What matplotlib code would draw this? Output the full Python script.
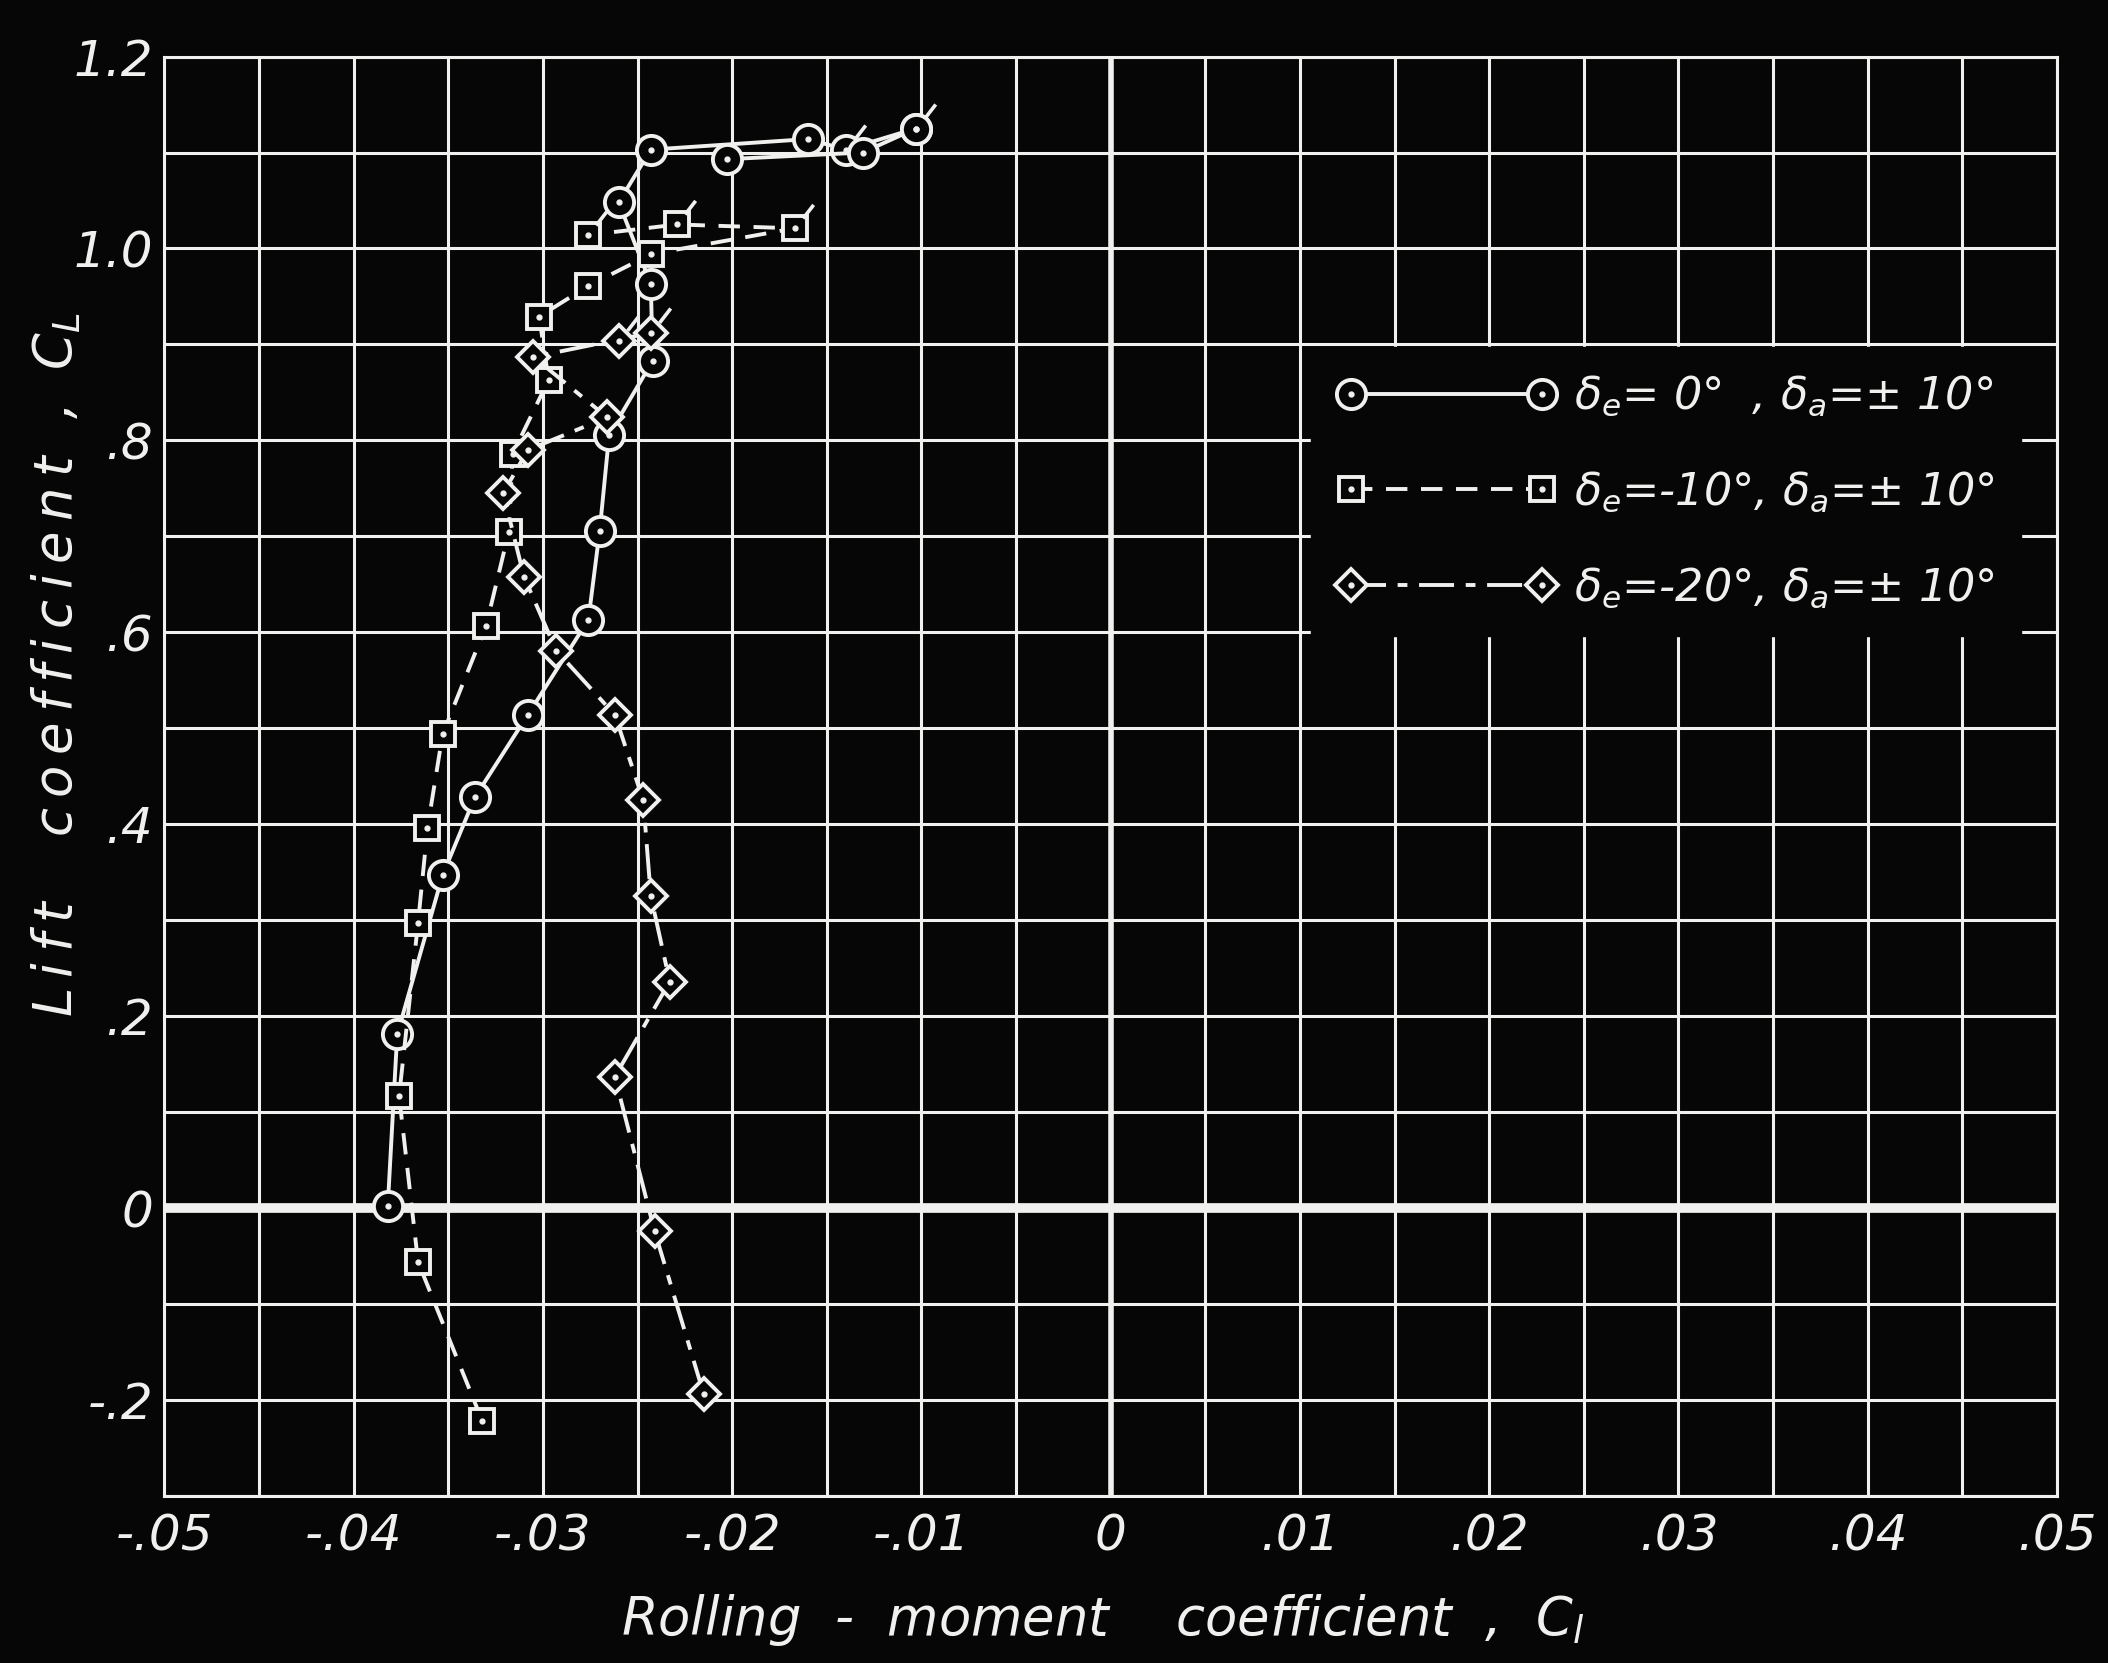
import matplotlib.pyplot as plt
from matplotlib.path import Path
from matplotlib.legend_handler import HandlerTuple
from matplotlib.ticker import MultipleLocator

# Rolling-moment coefficient Cl vs lift coefficient CL, aileron deflection +/-10 deg
roll_e0 = [-0.0382, -0.0377, -0.0353, -0.0336, -0.0308, -0.0276, -0.0270, -0.0265,
           -0.0242, -0.0243, -0.0260, -0.0243, -0.0160, -0.0140, -0.0103]
lift_e0 = [0.002, 0.181, 0.347, 0.428, 0.514, 0.613, 0.706, 0.806,
           0.883, 0.963, 1.048, 1.103, 1.114, 1.103, 1.125]
roll_e0_b = [-0.0203, -0.0131, -0.0103]
lift_e0_b = [1.093, 1.100, 1.125]
roll_e0_flag = [-0.0140, -0.0103]
lift_e0_flag = [1.103, 1.125]

roll_e10 = [-0.0332, -0.0366, -0.0376, -0.0366, -0.0361, -0.0353, -0.0330, -0.0318,
            -0.0316, -0.0297, -0.0302, -0.0276, -0.0243, -0.0167, -0.0229, -0.0276]
lift_e10 = [-0.222, -0.056, 0.117, 0.297, 0.396, 0.494, 0.607, 0.705,
            0.786, 0.863, 0.929, 0.961, 0.994, 1.021, 1.025, 1.014]
roll_e10_flag = [-0.0167, -0.0229, -0.0276]
lift_e10_flag = [1.021, 1.025, 1.014]

roll_e20 = [-0.0215, -0.0241, -0.0262, -0.0233, -0.0243, -0.0247, -0.0262, -0.0293,
            -0.0310, -0.0321, -0.0308, -0.0266, -0.0305, -0.0243]
lift_e20 = [-0.194, -0.024, 0.137, 0.236, 0.325, 0.425, 0.514, 0.581,
            0.658, 0.745, 0.790, 0.824, 0.887, 0.912]
roll_e20_extra = [-0.0260]
lift_e20_extra = [0.904]
roll_e20_flag = [-0.0260, -0.0243]
lift_e20_flag = [0.904, 0.912]

x_ticks = [-0.05, -0.04, -0.03, -0.02, -0.01, 0, 0.01, 0.02, 0.03, 0.04, 0.05]
x_labels = ['-.05', '-.04', '-.03', '-.02', '-.01', '0', '.01', '.02', '.03', '.04', '.05']
y_ticks = [-0.2, 0, 0.2, 0.4, 0.6, 0.8, 1.0, 1.2]
y_labels = ['-.2', '0', '.2', '.4', '.6', '.8', '1.0', '1.2']

labels = [r'$\delta_e$= 0°  , $\delta_a$=± 10°',
          r'$\delta_e$=-10°, $\delta_a$=± 10°',
          r'$\delta_e$=-20°, $\delta_a$=± 10°']

BG = '#060606'
FG = '#f0f0ee'
THIN = '\u2009'

plt.rcParams['font.family'] = 'DejaVu Sans'
plt.rcParams['font.style'] = 'italic'
plt.rcParams['mathtext.fontset'] = 'dejavusans'

fig = plt.figure(figsize=(21.08, 16.63), dpi=100, facecolor=BG)
ax = fig.add_axes([0.078, 0.1004, 0.8978, 0.8656], facecolor=BG)

ax.set_xlim(-0.05, 0.05)
ax.set_ylim(-0.3, 1.2)
ax.xaxis.set_minor_locator(MultipleLocator(0.005))
ax.yaxis.set_minor_locator(MultipleLocator(0.1))
ax.set_xticks(x_ticks)
ax.set_xticklabels(x_labels)
ax.set_yticks(y_ticks)
ax.set_yticklabels(y_labels)
ax.tick_params(which='both', length=0, colors=FG, labelsize=36)
ax.tick_params(axis='x', pad=12)
ax.tick_params(axis='y', pad=8)
ax.grid(which='both', color=FG, lw=2.2)
ax.set_axisbelow(True)
for s in ax.spines.values():
    s.set_color(FG)
    s.set_linewidth(2.2)

# heavy zero axes
ax.axhline(0, color=FG, lw=7, zorder=1.5)
ax.axvline(0, color=FG, lw=4, zorder=1.5)

flag = Path([(0.42, 0.55), (1.0, 1.3)])
mk = dict(mfc=BG, mec=FG, mew=2.8)
dot = dict(ls='none', marker='o', ms=3.5, color=FG)
LW = 2.8

# delta_e = 0
l0, = ax.plot(roll_e0, lift_e0, color=FG, lw=LW, marker='o', ms=21, **mk)
ax.plot(roll_e0_b, lift_e0_b, color=FG, lw=LW, marker='o', ms=21, **mk)
ax.plot(roll_e0_flag, lift_e0_flag, ls='none', marker=flag, ms=36, mec=FG, mew=2.6)
d0, = ax.plot(roll_e0 + roll_e0_b, lift_e0 + lift_e0_b, **dot)

# delta_e = -10
l1, = ax.plot(roll_e10, lift_e10, color=FG, lw=LW, ls=(0, (5.5, 3.5)),
              marker='s', ms=17, **mk)
ax.plot(roll_e10_flag, lift_e10_flag, ls='none', marker=flag, ms=34, mec=FG, mew=2.6)
d1, = ax.plot(roll_e10, lift_e10, **dot)

# delta_e = -20
l2, = ax.plot(roll_e20, lift_e20, color=FG, lw=LW, ls=(0, (9, 3, 2.5, 3)),
              marker='D', ms=16, **mk)
ax.plot(roll_e20_extra, lift_e20_extra, ls='none', marker='D', ms=16, **mk)
ax.plot(roll_e20_flag, lift_e20_flag, ls='none', marker=flag, ms=36, mec=FG, mew=2.6)
d2, = ax.plot(roll_e20 + roll_e20_extra, lift_e20 + lift_e20_extra, **dot)

leg = ax.legend([(l0, d0), (l1, d1), (l2, d2)], labels,
                handler_map={tuple: HandlerTuple(ndivide=1, pad=0)},
                loc='upper left', bbox_to_anchor=(0.606, 0.798), borderaxespad=0,
                numpoints=2, handlelength=4.9, handletextpad=0.4, labelspacing=1.15,
                borderpad=0.6, fontsize=32, facecolor=BG, edgecolor=BG, framealpha=1,
                fancybox=False)
for t in leg.get_texts():
    t.set_color(FG)

fig.text(0.523, 0.026, r'Rolling  -  moment    coefficient  ,  $C_l$', color=FG,
         fontsize=38, ha='center', va='center')
ylab = THIN.join('Lift  coefficient ,') + THIN * 3 + r'$C_L$'
fig.text(0.027, 0.600, ylab, color=FG, fontsize=38,
         ha='center', va='center', rotation=90)

fig.savefig('out.png', dpi=100, facecolor=BG)
